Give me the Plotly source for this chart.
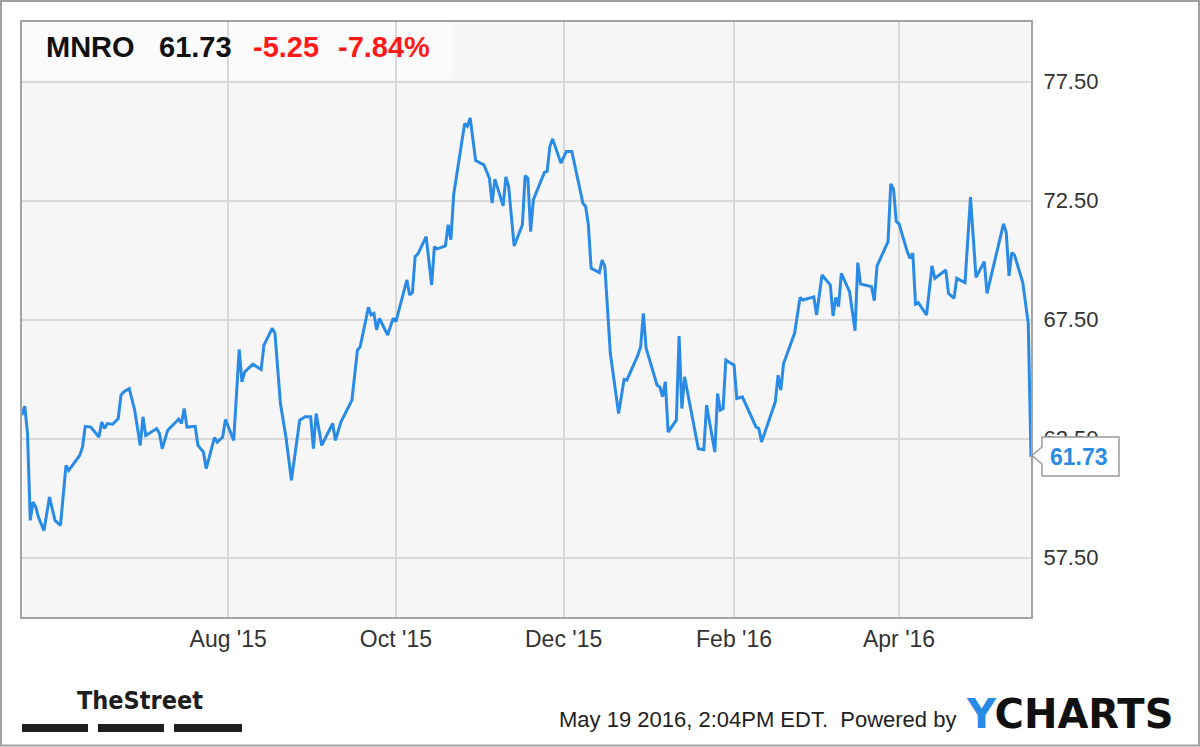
import plotly.graph_objects as go

# ---- data ----
dates = [
    "2015-05-18", "2015-05-19", "2015-05-20", "2015-05-21", "2015-05-22", "2015-05-23", "2015-05-24",
    "2015-05-26", "2015-05-28", "2015-05-30", "2015-06-01", "2015-06-03", "2015-06-04", "2015-06-06",
    "2015-06-08", "2015-06-09", "2015-06-10", "2015-06-12", "2015-06-15", "2015-06-16", "2015-06-17",
    "2015-06-18", "2015-06-20", "2015-06-22", "2015-06-23", "2015-06-24", "2015-06-26", "2015-06-28",
    "2015-06-30", "2015-07-01", "2015-07-02", "2015-07-06", "2015-07-07", "2015-07-08", "2015-07-10",
    "2015-07-14", "2015-07-15", "2015-07-16", "2015-07-17", "2015-07-20", "2015-07-21", "2015-07-23",
    "2015-07-24", "2015-07-27", "2015-07-28", "2015-07-30", "2015-07-31", "2015-08-03", "2015-08-05",
    "2015-08-06", "2015-08-07", "2015-08-10", "2015-08-13", "2015-08-14", "2015-08-17", "2015-08-18",
    "2015-08-20", "2015-08-22", "2015-08-24", "2015-08-27", "2015-08-29", "2015-08-31", "2015-09-01",
    "2015-09-02", "2015-09-04", "2015-09-08", "2015-09-09", "2015-09-11", "2015-09-15", "2015-09-17",
    "2015-09-18", "2015-09-21", "2015-09-22", "2015-09-23", "2015-09-24", "2015-09-25", "2015-09-28",
    "2015-09-30", "2015-10-01", "2015-10-05", "2015-10-06", "2015-10-07", "2015-10-08", "2015-10-09",
    "2015-10-12", "2015-10-14", "2015-10-15", "2015-10-16", "2015-10-19", "2015-10-20", "2015-10-21",
    "2015-10-22", "2015-10-26", "2015-10-27", "2015-10-28", "2015-10-30", "2015-11-02", "2015-11-04",
    "2015-11-05", "2015-11-06", "2015-11-09", "2015-11-10", "2015-11-11", "2015-11-13", "2015-11-16",
    "2015-11-17", "2015-11-18", "2015-11-19", "2015-11-20", "2015-11-24", "2015-11-25", "2015-11-26",
    "2015-11-27", "2015-11-30", "2015-12-02", "2015-12-04", "2015-12-08", "2015-12-09", "2015-12-10",
    "2015-12-11", "2015-12-14", "2015-12-15", "2015-12-16", "2015-12-18", "2015-12-21", "2015-12-23",
    "2015-12-24", "2015-12-28", "2015-12-29", "2015-12-30", "2015-12-31", "2016-01-04", "2016-01-05",
    "2016-01-06", "2016-01-07", "2016-01-08", "2016-01-11", "2016-01-12", "2016-01-13", "2016-01-14",
    "2016-01-19", "2016-01-21", "2016-01-22", "2016-01-25", "2016-01-26", "2016-01-27", "2016-01-28",
    "2016-01-29", "2016-02-01", "2016-02-02", "2016-02-04", "2016-02-09", "2016-02-10", "2016-02-11",
    "2016-02-16", "2016-02-17", "2016-02-18", "2016-02-19", "2016-02-23", "2016-02-25", "2016-02-26",
    "2016-03-01", "2016-03-02", "2016-03-04", "2016-03-07", "2016-03-08", "2016-03-09", "2016-03-10",
    "2016-03-11", "2016-03-14", "2016-03-16", "2016-03-17", "2016-03-18", "2016-03-22", "2016-03-23",
    "2016-03-24", "2016-03-28", "2016-03-29", "2016-03-30", "2016-03-31", "2016-04-01", "2016-04-04",
    "2016-04-05", "2016-04-06", "2016-04-07", "2016-04-08", "2016-04-11", "2016-04-13", "2016-04-14",
    "2016-04-18", "2016-04-19", "2016-04-21", "2016-04-22", "2016-04-25", "2016-04-27", "2016-04-29",
    "2016-05-02", "2016-05-03", "2016-05-06", "2016-05-09", "2016-05-10", "2016-05-11", "2016-05-12",
    "2016-05-13", "2016-05-16", "2016-05-18", "2016-05-19",
]
prices = [
    63.48, 63.86, 62.72, 59.06, 59.83, 59.62, 59.19,
    58.63, 60.04, 59.06, 58.85, 61.37, 61.16, 61.46,
    61.79, 62.14, 63.01, 62.98, 62.56, 63.19, 62.92,
    63.13, 63.10, 63.34, 64.32, 64.46, 64.60, 63.69,
    62.21, 63.41, 62.63, 62.92, 62.71, 62.07, 62.85,
    63.31, 63.13, 63.76, 62.98, 63.01, 62.21, 61.93,
    61.23, 62.54, 62.35, 62.56, 63.30, 62.42, 66.24,
    64.88, 65.30, 65.62, 65.40, 66.42, 67.13, 66.92,
    63.97, 62.56, 60.74, 63.27, 63.41, 63.41, 62.07,
    63.55, 62.21, 63.13, 62.42, 63.19, 64.11, 66.21,
    66.35, 68.01, 67.69, 67.76, 67.06, 67.55, 66.85,
    67.55, 67.41, 69.16, 68.53, 68.63, 70.14, 70.26,
    70.98, 68.95, 70.56, 70.47, 70.59, 71.48, 70.85,
    72.74, 75.73, 75.62, 75.97, 74.18, 74.00, 73.44,
    72.39, 73.40, 72.28, 73.49, 73.09, 70.59, 71.48,
    73.54, 73.44, 71.19, 72.53, 73.68, 73.72, 74.77,
    75.09, 74.07, 74.56, 74.56, 72.39, 72.25, 71.48,
    69.65, 69.47, 70.00, 69.72, 66.07, 63.55, 64.98,
    64.95, 66.00, 66.35, 67.76, 66.29, 64.74, 64.67,
    64.25, 64.88, 62.77, 63.27, 66.80, 63.76, 65.09,
    62.07, 62.03, 63.90, 61.93, 64.39, 63.69, 63.76,
    65.79, 65.58, 64.18, 64.25, 62.98, 62.92, 62.35,
    64.04, 65.16, 64.53, 65.65, 66.92, 68.43, 68.32,
    68.45, 67.69, 69.37, 68.95, 67.65, 68.43, 68.04,
    69.44, 68.67, 67.03, 69.89, 68.99, 68.88, 68.29,
    69.75, 70.77, 73.20, 72.98, 71.62, 71.52, 70.35,
    70.07, 70.29, 68.15, 68.21, 67.69, 69.75, 69.23,
    69.58, 68.60, 68.39, 69.23, 69.05, 72.64, 69.27,
    69.93, 68.60, 70.12, 71.52, 71.15, 69.33, 70.31,
    70.21, 69.05, 67.34, 61.73,
]

ticker = "MNRO"
last_price = "61.73"
change = "-5.25"
change_pct = "-7.84%"

x_tick_vals = ["2015-08-01", "2015-10-01", "2015-12-01", "2016-02-01", "2016-04-01"]
x_tick_text = ["Aug '15", "Oct '15", "Dec '15", "Feb '16", "Apr '16"]
y_tick_vals = [57.5, 62.5, 67.5, 72.5, 77.5]

footer_text = "May 19 2016, 2:04PM EDT.  Powered by"

# ---- styling ----
BLUE = "#2a8be6"
FONT = "Liberation Sans, Arial, sans-serif"

# geometry helpers (plot area: x 22..1031, y 22..617 in pixels)
L, R, T, B = 22, 1031, 22, 617
W, H = R - L, B - T


def px(x):
    return (x - L) / W


def py(y):
    return (B - y) / H


fig = go.Figure()
fig.add_trace(go.Scatter(
    x=dates, y=prices, mode="lines",
    line=dict(color=BLUE, width=3),
    hoverinfo="skip", showlegend=False,
))

fig.update_layout(
    width=1200, height=747,
    margin=dict(l=L, r=1200 - R, t=T, b=747 - B),
    paper_bgcolor="white",
    plot_bgcolor="#f6f6f6",
    font=dict(family=FONT, color="#333333"),
    showlegend=False,
    xaxis=dict(
        range=[dates[0], dates[-1]],
        tickvals=x_tick_vals, ticktext=x_tick_text,
        showgrid=True, gridcolor="#d9d9d9", gridwidth=1.5,
        showline=True, mirror=True, linecolor="#a3a3a3", linewidth=2,
        ticks="", tickfont=dict(size=23, color="#333333"),
        ticklabelstandoff=0,
        zeroline=False, fixedrange=True,
    ),
    yaxis=dict(
        range=[55, 80], side="right",
        tickvals=y_tick_vals, tickformat=".2f",
        showgrid=True, gridcolor="#d9d9d9", gridwidth=1.5,
        showline=True, mirror=True, linecolor="#a3a3a3", linewidth=2,
        ticks="", tickfont=dict(size=22, color="#333333"),
        ticklabelstandoff=6,
        zeroline=False, fixedrange=True,
    ),
)

shapes = []
# title box (slightly lighter)
shapes.append(dict(type="rect", xref="x domain", yref="y domain",
                   x0=0, x1=px(453), y0=py(79), y1=1,
                   fillcolor="#fbfbfb", line=dict(width=0), layer="below"))
# outer image border
shapes.append(dict(type="rect", xref="paper", yref="paper",
                   x0=px(1), x1=px(1199), y0=py(745.5), y1=py(1),
                   line=dict(color="#a0a0a0", width=2), fillcolor="rgba(0,0,0,0)"))
# price callout
path = "M {a},{ym} L {b},{yn1} L {b},{yt} L {c},{yt} L {c},{yb} L {b},{yb} L {b},{yn2} Z".format(
    a=px(1032), b=px(1042), c=px(1119),
    ym=py(455.5), yn1=py(447), yn2=py(464), yt=py(437), yb=py(476))
shapes.append(dict(type="path", xref="paper", yref="paper", path=path,
                   fillcolor="white", line=dict(color="#9a9a9a", width=1.5)))
# TheStreet bars
for x0, x1 in [(22, 88), (98, 164), (174, 242)]:
    shapes.append(dict(type="rect", xref="paper", yref="paper",
                       x0=px(x0), x1=px(x1), y0=py(732), y1=py(724),
                       fillcolor="#1e1e1e", line=dict(width=0)))
fig.update_layout(shapes=shapes)

ann = []
title_y = py(47.5)
for text, xpix, color in [(ticker, 44, "#111111"), (last_price, 157, "#111111"),
                          (change, 251, "#ff1a1a"), (change_pct, 336, "#ff1a1a")]:
    ann.append(dict(text="<b>%s</b>" % text, xref="paper", yref="paper",
                    x=px(xpix), y=title_y, xanchor="left", yanchor="middle",
                    showarrow=False, font=dict(size=29, color=color, family=FONT)))
# callout value
ann.append(dict(text="<b>%s</b>" % last_price, xref="paper", yref="paper",
                x=px(1079), y=py(456.5), xanchor="center", yanchor="middle",
                showarrow=False, font=dict(size=23, color=BLUE, family=FONT)))
# TheStreet logo text
ann.append(dict(text="<b>TheStreet</b>", xref="paper", yref="paper",
                x=px(75), y=py(700), xanchor="left", yanchor="middle",
                showarrow=False,
                font=dict(size=25, color="#1e1e1e",
                          family="Liberation Sans Narrow, DejaVu Sans Condensed, Arial Narrow, Liberation Sans, sans-serif")))
# footer
ann.append(dict(text=footer_text, xref="paper", yref="paper",
                x=px(958), y=py(719), xanchor="right", yanchor="middle",
                showarrow=False, font=dict(size=22, color="#222222", family=FONT)))
ann.append(dict(text="<b><span style='color:%s'>Y</span>CHARTS</b>" % BLUE,
                xref="paper", yref="paper",
                x=px(964), y=py(714), xanchor="left", yanchor="middle",
                showarrow=False, font=dict(size=40, color="#111111", family="DejaVu Sans, sans-serif")))
fig.update_layout(annotations=ann)

fig.write_html("out.html", config={"displayModeBar": False},
               post_script="document.body.style.margin='0px';document.body.style.overflow='hidden';")
